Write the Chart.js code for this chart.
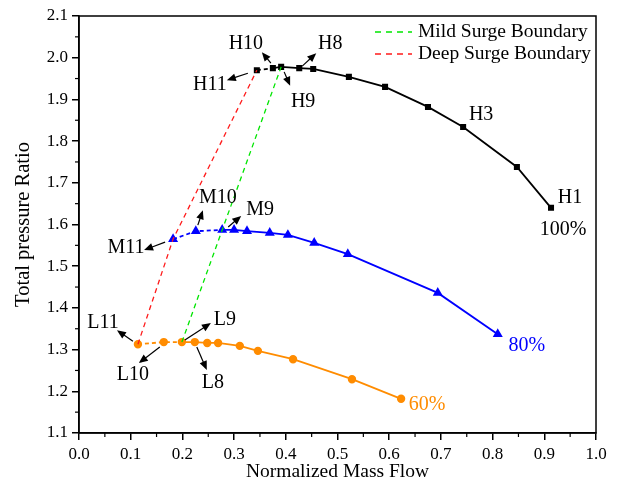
<!DOCTYPE html>
<html>
<head>
<meta charset="utf-8">
<script src="https://cdn.jsdelivr.net/npm/chart.js@4.4.1/dist/chart.umd.min.js"></script>
<style>
  html, body { margin: 0; padding: 0; background: #fff; }
  #wrap { width: 617px; height: 494px; }
</style>
</head>
<body>
<div id="wrap"><canvas id="myChart" width="617" height="494"></canvas></div>
<script>
// point names, index 0 = point 11 (lowest flow) ... index 10 = point 1
var pointNames = ["11", "10", "9", "8", "7", "6", "5", "4", "3", "2", "1"];

// 100% speed line (H)
var flowH = [0.344, 0.375, 0.391, 0.426, 0.453, 0.522, 0.592, 0.675, 0.743, 0.847, 0.913];
var prH   = [1.970, 1.975, 1.978, 1.975, 1.973, 1.954, 1.930, 1.882, 1.834, 1.738, 1.640];

// 80% speed line (M)
var flowM = [0.182, 0.226, 0.277, 0.300, 0.325, 0.369, 0.404, 0.455, 0.520, 0.694, 0.810];
var prM   = [1.565, 1.584, 1.587, 1.587, 1.584, 1.580, 1.575, 1.556, 1.529, 1.436, 1.337];

// 60% speed line (L)
var flowL = [0.114, 0.164, 0.199, 0.224, 0.248, 0.269, 0.311, 0.346, 0.414, 0.528, 0.623];
var prL   = [1.313, 1.318, 1.318, 1.318, 1.316, 1.316, 1.309, 1.297, 1.277, 1.229, 1.182];

var speedLabels = ["100%", "80%", "60%"];
var xTicks = [0, 0.1, 0.2, 0.3, 0.4, 0.5, 0.6, 0.7, 0.8, 0.9, 1.0];
var yTicks = [1.1, 1.2, 1.3, 1.4, 1.5, 1.6, 1.7, 1.8, 1.9, 2.0, 2.1];

var mildIdx = 2; // point 9
var deepIdx = 0; // point 11

function pts(xs, ys) {
  return xs.map(function (x, i) { return { x: x, y: ys[i] }; });
}

var serif = '"Liberation Serif", "DejaVu Serif", serif';

// labels next to points: [dataset, index, prefix, label dx, dy, arrow tail dx, dy, arrow head dx, dy]
var notes = [
  [0, 0, "H", -47, 15, -9, 3, -30, 10],
  [0, 1, "H", -27, -24, -2, -5, -11, -16],
  [0, 2, "H", 22, 35, 3, 5, 9, 19],
  [0, 3, "H", 31, -24, 3, -2, 17, -15],
  [0, 8, "H", 18, -12],
  [0, 10, "H", 19, -10],
  [1, 0, "M", -47, 9, -8, 3, -29, 11],
  [1, 1, "M", 22, -33, 2, -6, 7, -21],
  [1, 2, "M", 38, -20, 6, -3, 19, -14],
  [2, 0, "L", -35, -21, -5, -3, -21, -14],
  [2, 1, "L", -31, 33, -4, 5, -25, 21],
  [2, 2, "L", 43, -22, 3, -2, 29, -19],
  [2, 3, "L", 18, 41, 2, 5, 12, 28]
];
// speed tags near point 1 of each line: [dx, dy]
var speedOffsets = [[12, 22], [29, 12], [26, 6]];

function arrow(ctx, x0, y0, x1, y1) {
  var a = Math.atan2(y1 - y0, x1 - x0);
  var L = 9, W = 3.8;
  ctx.beginPath();
  ctx.moveTo(x0, y0);
  ctx.lineTo(x1 - L * 0.8 * Math.cos(a), y1 - L * 0.8 * Math.sin(a));
  ctx.stroke();
  ctx.beginPath();
  ctx.moveTo(x1, y1);
  ctx.lineTo(x1 - L * Math.cos(a) + W * Math.sin(a), y1 - L * Math.sin(a) - W * Math.cos(a));
  ctx.lineTo(x1 - L * Math.cos(a) - W * Math.sin(a), y1 - L * Math.sin(a) + W * Math.cos(a));
  ctx.closePath();
  ctx.fill();
}

var extras = {
  id: "extras",
  afterDraw: function (chart) {
    var ctx = chart.ctx;
    var a = chart.chartArea;
    ctx.save();
    // frame
    ctx.strokeStyle = "#000";
    ctx.lineWidth = 1.5;
    ctx.strokeRect(a.left, a.top, a.right - a.left, a.bottom - a.top);
    // minor ticks
    ctx.lineWidth = 1.2;
    var xs = chart.scales.x, ys = chart.scales.y;
    for (var i = 0; i < xTicks.length - 1; i++) {
      var px = xs.getPixelForValue(xTicks[i] + 0.05);
      ctx.beginPath(); ctx.moveTo(px, a.bottom); ctx.lineTo(px, a.bottom + 4); ctx.stroke();
    }
    for (var j = 0; j < yTicks.length - 1; j++) {
      var py = ys.getPixelForValue(yTicks[j] + 0.05);
      ctx.beginPath(); ctx.moveTo(a.left, py); ctx.lineTo(a.left - 4, py); ctx.stroke();
    }

    // point labels and arrows
    ctx.font = "20px " + serif;
    ctx.textAlign = "center";
    ctx.textBaseline = "middle";
    ctx.fillStyle = "#000";
    ctx.lineWidth = 1.2;
    notes.forEach(function (n) {
      var p = chart.getDatasetMeta(n[0]).data[n[1]];
      ctx.fillText(n[2] + pointNames[n[1]], p.x + n[3], p.y + n[4]);
      if (n.length > 5) arrow(ctx, p.x + n[5], p.y + n[6], p.x + n[7], p.y + n[8]);
    });

    // speed tags
    ctx.font = "20px " + serif;
    for (var k = 0; k < 3; k++) {
      var ds = chart.data.datasets[k];
      var meta = chart.getDatasetMeta(k);
      var last = meta.data[meta.data.length - 1];
      ctx.fillStyle = ds.borderColor;
      ctx.fillText(speedLabels[k], last.x + speedOffsets[k][0], last.y + speedOffsets[k][1]);
    }

    // legend for the surge boundaries
    ctx.font = "19.5px " + serif;
    ctx.textAlign = "left";
    ctx.fillStyle = "#000";
    [3, 4].forEach(function (d, r) {
      var ds = chart.data.datasets[d];
      var y = a.top + 16 + r * 22;
      ctx.strokeStyle = ds.borderColor;
      ctx.lineWidth = 1.5;
      ctx.setLineDash([6, 5]);
      ctx.beginPath(); ctx.moveTo(a.right - 221, y); ctx.lineTo(a.right - 184, y); ctx.stroke();
      ctx.setLineDash([]);
      ctx.fillText(ds.label, a.right - 178, y);
    });
    ctx.restore();
  }
};

var dashFirst = function (n) {
  return function (c) { return c.p0DataIndex < n ? [4, 3] : undefined; };
};

var ctx = document.getElementById("myChart").getContext("2d");
var myChart = new Chart(ctx, {
  type: "line",
  data: {
    datasets: [
      {
        label: "100%", data: pts(flowH, prH), borderColor: "#000000", backgroundColor: "#000000",
        borderWidth: 1.8, pointStyle: "rect", pointRadius: 3, order: 2,
        segment: { borderDash: dashFirst(1) }
      },
      {
        label: "80%", data: pts(flowM, prM), borderColor: "#0000ff", backgroundColor: "#0000ff",
        borderWidth: 1.8, pointStyle: "triangle", pointRadius: 4, order: 2,
        segment: { borderDash: dashFirst(2) }
      },
      {
        label: "60%", data: pts(flowL, prL), borderColor: "#ff8c00", backgroundColor: "#ff8c00",
        borderWidth: 1.8, pointStyle: "circle", pointRadius: 3.3, order: 2,
        segment: { borderDash: dashFirst(2) }
      },
      {
        label: "Mild Surge Boundary",
        data: [{ x: flowL[mildIdx], y: prL[mildIdx] }, { x: flowM[mildIdx], y: prM[mildIdx] }, { x: flowH[mildIdx], y: prH[mildIdx] }],
        borderColor: "#00e600", borderWidth: 1.3, borderDash: [5, 4], pointRadius: 0, order: 1
      },
      {
        label: "Deep Surge Boundary",
        data: [{ x: flowL[deepIdx], y: prL[deepIdx] }, { x: flowM[deepIdx], y: prM[deepIdx] }, { x: flowH[deepIdx], y: prH[deepIdx] }],
        borderColor: "#ff1a1a", borderWidth: 1.3, borderDash: [5, 4], pointRadius: 0, order: 1
      }
    ]
  },
  options: {
    responsive: false,
    animation: false,
    layout: { padding: { top: 16, right: 21, left: 0, bottom: 0 } },
    plugins: { legend: { display: false }, tooltip: { enabled: false } },
    elements: { line: { tension: 0 } },
    scales: {
      x: {
        type: "linear", min: 0, max: 1,
        afterFit: function (s) { s.height = 61; },
        afterBuildTicks: function (s) { s.ticks = xTicks.map(function (v) { return { value: v }; }); },
        ticks: { color: "#000", padding: 4, font: { family: serif, size: 17 }, maxRotation: 0,
          callback: function (v) { return v.toFixed(1); } },
        grid: { drawOnChartArea: false, drawTicks: true, tickLength: 7, color: "#000", lineWidth: 1.5 },
        border: { display: true, color: "#000", width: 1.5 },
        title: { display: true, text: "Normalized Mass Flow", color: "#000",
          font: { family: serif, size: 19.5 }, padding: { top: 2, bottom: 10 } }
      },
      y: {
        type: "linear", min: 1.1, max: 2.1,
        afterFit: function (s) { s.width = 79; },
        afterBuildTicks: function (s) { s.ticks = yTicks.map(function (v) { return { value: v }; }); },
        ticks: { color: "#000", padding: 4, font: { family: serif, size: 17 },
          callback: function (v) { return v.toFixed(1); } },
        grid: { drawOnChartArea: false, drawTicks: true, tickLength: 7, color: "#000", lineWidth: 1.5 },
        border: { display: true, color: "#000", width: 1.5 },
        title: { display: true, text: "Total pressure Ratio", color: "#000",
          font: { family: serif, size: 20.5 }, padding: { top: 11, bottom: 4 } }
      }
    }
  },
  plugins: [extras]
});
</script>
</body>
</html>
